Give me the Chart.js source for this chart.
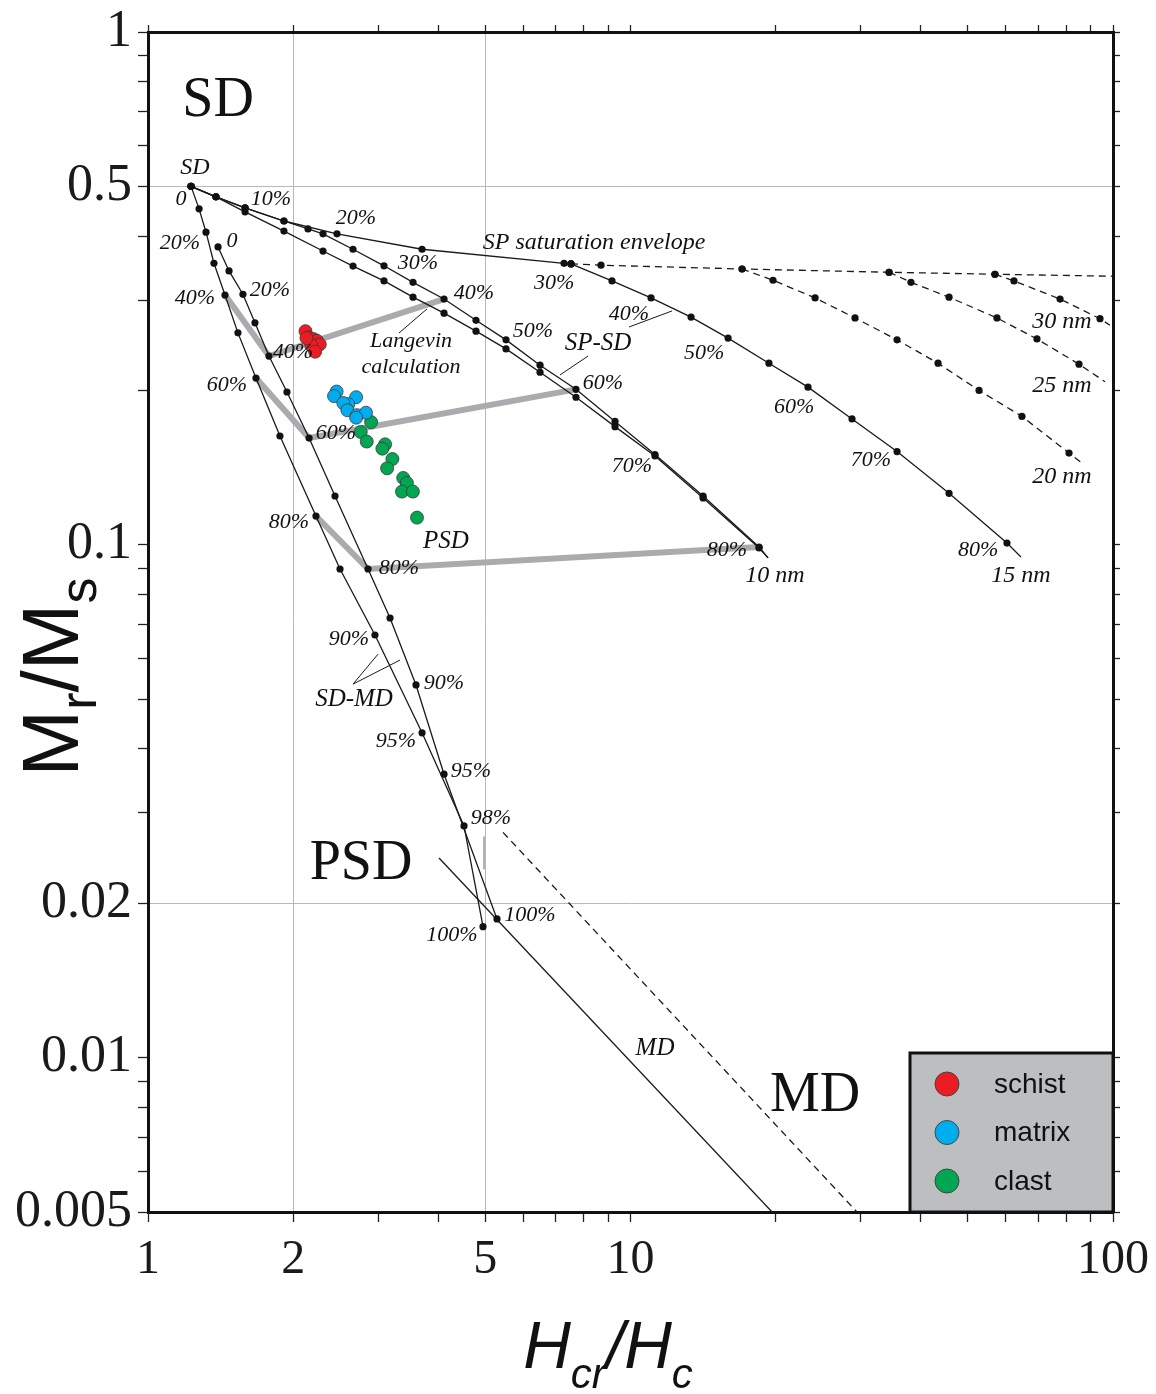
<!DOCTYPE html>
<html>
<head>
<meta charset="utf-8">
<title>Day plot</title>
<script src="https://cdn.jsdelivr.net/npm/chart.js@4.4.1/dist/chart.umd.min.js"></script>
<style>
  body { margin: 0; background: #fff; }
  #wrap { width: 1156px; height: 1394px; position: relative; }
</style>
</head>
<body>
<div id="wrap"><canvas id="dayPlot"></canvas></div>
<script>
// measured samples (Hcr/Hc, Mr/Ms)
const schistX = [2.12, 2.15, 2.20, 2.24, 2.27, 2.18, 2.22, 2.13]
const schistY = [0.261, 0.254, 0.252, 0.250, 0.246, 0.245, 0.238, 0.253]
const matrixX = [2.46, 2.43, 2.70, 2.60, 2.54, 2.59, 2.71, 2.83, 2.70]
const matrixY = [0.199, 0.195, 0.194, 0.188, 0.189, 0.183, 0.179, 0.181, 0.177]
const clastX = [2.90, 2.76, 2.84, 3.10, 3.06, 3.21, 3.13, 3.38, 3.44, 3.36, 3.54, 3.61]
const clastY = [0.1735, 0.166, 0.159, 0.157, 0.154, 0.147, 0.141, 0.135, 0.132, 0.127, 0.127, 0.113]

// theoretical curves, [Hcr/Hc, Mr/Ms]
const envelopeSolid = [[1.228,0.500],[1.383,0.477],[1.589,0.454],[1.913,0.428],[2.464,0.404],[3.698,0.377],[7.282,0.354],[7.528,0.353]]
const envelopeDashed = [[7.528,0.353],[8.687,0.351],[17.03,0.345],[34.35,0.340],[56.93,0.337],[100,0.334]]
const spsd10a = [[1.228,0.500],[1.383,0.477],[1.589,0.454],[1.913,0.428],[2.146,0.413],[2.305,0.404],[2.660,0.377],[3.084,0.350],[3.542,0.325],[4.107,0.3015],[4.784,0.274],[5.521,0.251],[6.494,0.224],[7.709,0.201],[9.288,0.174],[11.24,0.150],[14.14,0.1245],[18.47,0.099],[19.28,0.0943]]
const spsd10b = [[1.228,0.500],[1.383,0.477],[1.589,0.446],[1.913,0.409],[2.305,0.374],[2.660,0.3496],[3.084,0.327],[3.542,0.304],[4.107,0.283],[4.784,0.261],[5.521,0.241],[6.494,0.217],[7.709,0.194],[9.288,0.170],[11.24,0.149],[14.14,0.1234],[18.47,0.0986],[19.28,0.0943]]
const spsd15 = [[7.528,0.353],[9.155,0.327],[11.03,0.303],[13.35,0.278],[15.93,0.253],[19.36,0.226],[23.33,0.203],[28.78,0.176],[35.68,0.152],[45.73,0.126],[60.29,0.1008],[64.46,0.0947]]
const spsd20 = [[17.03,0.345],[19.74,0.328],[24.13,0.303],[29.19,0.277],[35.68,0.251],[43.39,0.226],[52.77,0.200],[64.76,0.178],[81.07,0.151],[86.26,0.1444]]
const spsd25 = [[34.35,0.340],[38.13,0.325],[45.73,0.304],[57.48,0.277],[69.57,0.252],[85.03,0.225],[96.25,0.208]]
const spsd30 = [[56.93,0.337],[62.34,0.327],[77.67,0.3015],[93.99,0.276],[98.58,0.268]]
const sdmd1 = [[1.228,0.500],[1.276,0.452],[1.319,0.407],[1.370,0.354],[1.444,0.307],[1.536,0.259],[1.674,0.2115],[1.877,0.163],[2.229,0.1138],[2.500,0.0897],[2.954,0.0667],[3.698,0.0430],[4.518,0.0283],[4.947,0.0180]]
const sdmd2 = [[1.397,0.381],[1.472,0.342],[1.573,0.308],[1.666,0.271],[1.781,0.2334],[1.941,0.1986],[2.157,0.1615],[2.441,0.1245],[2.858,0.0897],[3.174,0.0720],[3.593,0.0533],[4.107,0.0357],[5.288,0.01864]]
const mdSolid = [[4.010,0.0245],[19.65,0.005]]
const mdDashed = [[5.442,0.0275],[29.47,0.005]]
const greyMark = [[4.971,0.0270],[4.971,0.0233]]
const langevin40 = [[1.444,0.307],[1.781,0.2334],[4.107,0.3015]]
const langevin60 = [[1.674,0.2115],[2.157,0.1615],[7.709,0.201]]
const langevin80 = [[2.229,0.1138],[2.858,0.0897],[18.47,0.099]]
const leaderLangevin = [[3.786,0.2884],[3.313,0.2588]]
const leaderSpsd = [[8.166,0.2334],[7.142,0.2144]]
const leader40 = [[12.19,0.2858],[9.929,0.2659]]
const leaderSdmd = [[2.997,0.0612],[2.660,0.0535],[3.329,0.0596]]

// axes
const xTickVals = [1,2,3,4,5,6,7,8,9,10,20,30,40,50,60,70,80,90,100]
const xLabelVals = [1,2,5,10,100]
const xGridVals = [2,5]
const yTickVals = [0.005,0.006,0.007,0.008,0.009,0.01,0.02,0.03,0.04,0.05,0.06,0.07,0.08,0.09,0.1,0.2,0.3,0.4,0.5,0.6,0.7,0.8,0.9,1]
const yLabelVals = [0.005,0.01,0.02,0.1,0.5,1]
const yGridVals = [0.02,0.5]

// annotations [text, Hcr/Hc, Mr/Ms, font]
const curveLabels = [
  ['SD',1.251,0.543,'m'], ['0',1.171,0.4725,'s'], ['10%',1.798,0.4725,'s'], ['20%',2.698,0.434,'s'],
  ['30%',3.627,0.354,'s'], ['40%',4.739,0.310,'s'], ['50%',6.280,0.261,'s'], ['60%',8.770,0.207,'s'],
  ['70%',10.07,0.1424,'s'], ['80%',15.85,0.0977,'s'], ['10 nm',19.93,0.0870,'m'],
  ['SP saturation envelope',8.403,0.388,'m'], ['30%',6.943,0.324,'s'], ['40%',9.93,0.281,'s'],
  ['SP-SD',8.563,0.2474,'l'], ['50%',14.21,0.2366,'s'], ['60%',21.83,0.1857,'s'], ['70%',31.51,0.1464,'s'],
  ['80%',52.52,0.0977,'s'], ['15 nm',64.46,0.0870,'m'], ['30 nm',78.41,0.272,'m'], ['25 nm',78.41,0.204,'m'],
  ['20 nm',78.41,0.1356,'m'], ['Langevin',3.509,0.2497,'s'], ['calculation',3.509,0.2222,'s'],
  ['20%',1.165,0.3878,'s'], ['0',1.493,0.391,'s'], ['40%',1.251,0.3029,'s'], ['20%',1.790,0.314,'s'],
  ['40%',1.998,0.2377,'s'], ['60%',1.458,0.2049,'s'], ['60%',2.453,0.1652,'s'], ['80%',1.960,0.1108,'s'],
  ['80%',3.313,0.0901,'s'], ['PSD',4.146,0.1017,'l'], ['90%',2.610,0.0655,'s'], ['90%',4.107,0.0538,'s'],
  ['SD-MD',2.673,0.0500,'l'], ['95%',3.266,0.0414,'s'], ['95%',4.671,0.0362,'s'], ['98%',5.138,0.0293,'s'],
  ['100%',4.267,0.01734,'s'], ['100%',6.191,0.01897,'s'], ['MD',11.24,0.01044,'l'],
  ['SD',1.397,0.733,'big'], ['PSD',2.764,0.02385,'big'], ['MD',24.13,0.00842,'big']
]
const labelFonts = {
  s: "italic 22px 'Liberation Serif'",
  m: "italic 24px 'Liberation Serif'",
  l: "italic 25px 'Liberation Serif'",
  big: "56px 'Liberation Serif'"
}

const has = (list, v) => list.some(a => Math.abs(a - v) < 1e-9)
const pts = arr => arr.map(p => ({x: p[0], y: p[1]}))
const zip = (xs, ys) => xs.map((x, i) => ({x: x, y: ys[i]}))

let curve = (data, opts) => {
  opts = opts || {}
  let n = data.length
  let radii = data.map((p, i) => {
    if (opts.noDots) return 0
    if (opts.lastBare && i == n - 1) return 0
    return 3.6
  })
  return {
    data: pts(data),
    showLine: true,
    borderColor: opts.color || '#1a1a1a',
    borderWidth: opts.width || 1.3,
    borderDash: opts.dash ? [7, 5] : [],
    pointRadius: radii,
    pointHoverRadius: radii,
    pointBackgroundColor: '#111',
    pointBorderWidth: 0,
    fill: false
  }
}

let samples = (label, data, color) => ({
  label: label,
  data: data,
  showLine: false,
  pointRadius: 6.5,
  pointHoverRadius: 6.5,
  pointBackgroundColor: color,
  pointBorderColor: '#3a3a3a',
  pointBorderWidth: 0.8
})

const grey = {color: '#a9abae', width: 6, noDots: true}

const datasets = [
  samples('schist', zip(schistX, schistY), '#ed1c24'),
  samples('matrix', zip(matrixX, matrixY), '#00aeef'),
  samples('clast', zip(clastX, clastY), '#00a651'),
  curve(envelopeSolid),
  curve(envelopeDashed, {dash: true, lastBare: true}),
  curve(spsd10a, {lastBare: true}),
  curve(spsd10b, {lastBare: true}),
  curve(spsd15, {lastBare: true}),
  curve(spsd20, {dash: true, lastBare: true}),
  curve(spsd25, {dash: true, lastBare: true}),
  curve(spsd30, {dash: true, lastBare: true}),
  curve(sdmd1),
  curve(sdmd2),
  curve(mdSolid, {noDots: true}),
  curve(mdDashed, {noDots: true, dash: true}),
  curve(leaderLangevin, {noDots: true, width: 1}),
  curve(leaderSpsd, {noDots: true, width: 1}),
  curve(leader40, {noDots: true, width: 1}),
  curve(leaderSdmd, {noDots: true, width: 1}),
  curve(greyMark, {noDots: true, color: '#9a9a9a', width: 1.5}),
  curve(langevin40, grey),
  curve(langevin60, grey),
  curve(langevin80, grey)
]

let logAxis = (pos, min, max, tickVals, labelVals, gridVals, size, withLabels, fontSize, pad) => ({
  type: 'logarithmic',
  position: pos,
  min: min,
  max: max,
  afterBuildTicks: s => { s.ticks = tickVals.map(v => ({value: v})) },
  afterFit: s => {
    if (s.isHorizontal()) s.height = size
    else s.width = size
    // keep the plot frame fixed, labels may overhang
    s.paddingLeft = 0
    s.paddingRight = 0
    s.paddingTop = 0
    s.paddingBottom = 0
  },
  ticks: {
    display: withLabels,
    autoSkip: false,
    maxRotation: 0,
    padding: pad || 8,
    color: '#1a1a1a',
    font: {family: "'Liberation Serif'", size: fontSize || 46, lineHeight: 1},
    callback: v => has(labelVals, v) ? String(v) : ''
  },
  grid: {
    drawOnChartArea: withLabels,
    color: c => (c.tick && has(gridVals, c.tick.value)) ? '#b8b8b8' : 'rgba(0,0,0,0)',
    lineWidth: 1,
    drawTicks: true,
    tickLength: withLabels ? 10 : 7,
    tickColor: '#222',
    tickWidth: 1.3
  },
  border: {display: true, color: '#111', width: 3}
})

// rich text with subscripts, centred on cx
let richText = (ctx, parts, family, italic, cx, base) => {
  let total = 0
  parts.forEach(p => {
    ctx.font = (italic ? 'italic ' : '') + p[1] + 'px ' + family
    total += ctx.measureText(p[0]).width
  })
  let x = cx - total / 2
  parts.forEach(p => {
    ctx.font = (italic ? 'italic ' : '') + p[1] + 'px ' + family
    ctx.fillText(p[0], x, base + p[2])
    x += ctx.measureText(p[0]).width
  })
}

const overlay = {
  id: 'overlay',
  afterDatasetsDraw(chart) {
    const ctx = chart.ctx
    const xs = chart.scales.x, ys = chart.scales.y
    const area = chart.chartArea
    ctx.save()
    ctx.fillStyle = '#111'
    ctx.textAlign = 'center'
    ctx.textBaseline = 'middle'
    curveLabels.forEach(l => {
      ctx.font = labelFonts[l[3]]
      ctx.fillText(l[0], xs.getPixelForValue(l[1]), ys.getPixelForValue(l[2]))
    })

    // legend box
    let w = 203, h = 159
    let lx = area.right - w, ly = area.bottom - h
    ctx.fillStyle = '#bcbec0'
    ctx.fillRect(lx, ly, w, h)
    ctx.lineWidth = 3
    ctx.strokeStyle = '#111'
    ctx.strokeRect(lx, ly, w, h)
    ctx.textAlign = 'left'
    ctx.font = "28px 'Liberation Sans'"
    for (let i = 0; i < 3; i++) {
      let ds = chart.data.datasets[i]
      let cy = ly + 31 + i * 48.5
      ctx.beginPath()
      ctx.arc(lx + 37, cy, 12, 0, Math.PI * 2)
      ctx.fillStyle = ds.pointBackgroundColor
      ctx.fill()
      ctx.lineWidth = 1
      ctx.strokeStyle = '#444'
      ctx.stroke()
      ctx.fillStyle = '#111'
      ctx.fillText(ds.label, lx + 84, cy + 1)
    }
    ctx.restore()
  },
  afterDraw(chart) {
    const ctx = chart.ctx
    ctx.save()
    ctx.fillStyle = '#111'
    ctx.textAlign = 'left'
    ctx.textBaseline = 'alphabetic'
    // x title
    richText(ctx, [['H', 66, 0], ['cr', 42, 20], ['/', 66, 0], ['H', 66, 0], ['c', 42, 20]], "'Liberation Sans'", true, 608, 1368)
    // y title
    ctx.translate(78, 677)
    ctx.rotate(-Math.PI / 2)
    richText(ctx, [['M', 80, 0], ['r', 52, 18], ['/', 80, 0], ['M', 80, 0], ['s', 52, 18]], "'Liberation Sans'", false, 0, 0)
    ctx.restore()
  }
}

const chart = new Chart(document.getElementById('dayPlot').getContext('2d'), {
  type: 'scatter',
  data: {datasets: datasets},
  options: {
    responsive: true,
    maintainAspectRatio: false,
    animation: false,
    layout: {padding: 0},
    plugins: {
      legend: {display: false},
      tooltip: {enabled: false}
    },
    scales: {
      x: logAxis('bottom', 1, 100, xTickVals, xLabelVals, xGridVals, 182, true, 48, 14),
      y: logAxis('left', 0.005, 1, yTickVals, yLabelVals, yGridVals, 148, true, 52, 6),
      x2: logAxis('top', 1, 100, xTickVals, [], [], 32, false),
      y2: logAxis('right', 0.005, 1, yTickVals, [], [], 43, false)
    }
  },
  plugins: [overlay]
})
</script>
</body>
</html>
